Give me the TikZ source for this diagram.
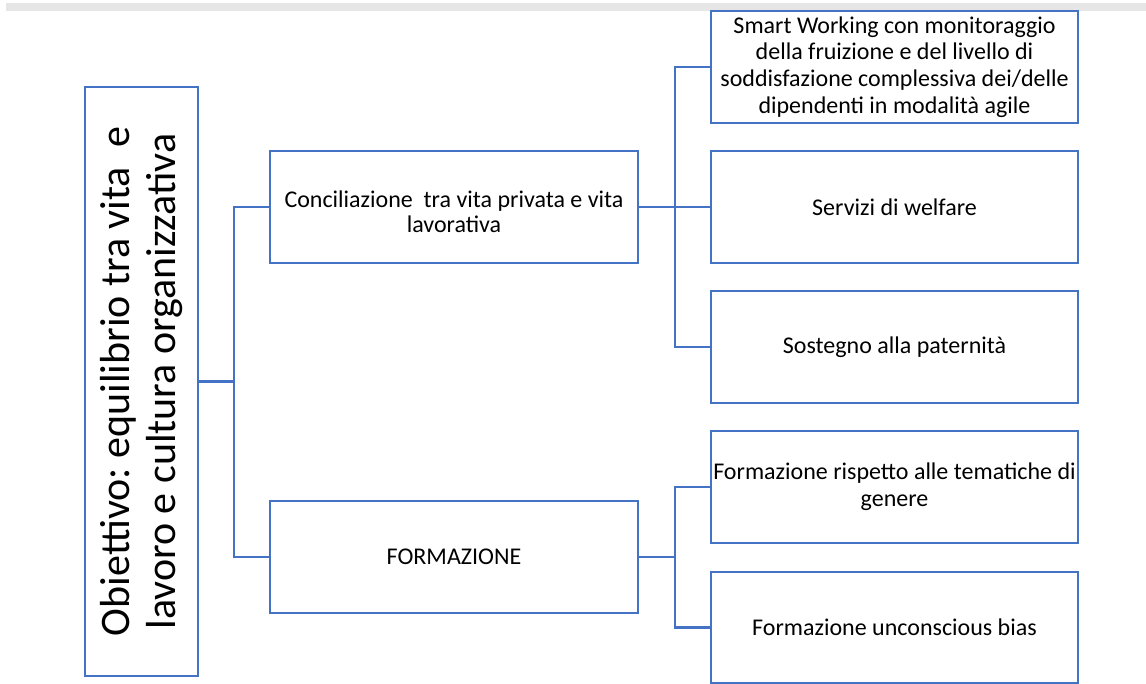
\documentclass[tikz,border=0pt]{standalone}
\usepackage{fontspec}
\setmainfont{Carlito}
\frenchspacing
\definecolor{boxblue}{HTML}{4472C4}
\definecolor{bargray}{HTML}{E6E6E6}
\begin{document}
\begin{tikzpicture}[x=1pt,y=-1pt,
  box/.style={draw=boxblue, line width=2.7pt, fill=white, inner sep=0pt, align=center, text=black},
  rbox/.style={box, minimum width=367pt, minimum height=112pt, font=\fontsize{24}{26.7}\selectfont},
  lbox/.style={box, minimum width=368pt, minimum height=112pt, font=\fontsize{24}{25}\selectfont},
  txt/.style={inner sep=0pt, align=center, text=black, font=\fontsize{24}{25}\selectfont},
  conn/.style={draw=boxblue, line width=2.7pt}]
\useasboundingbox (0,0) rectangle (1146,683);
\fill[bargray] (6,3) rectangle (1146,11);
% nodes
\node[box, minimum width=113pt, minimum height=589pt] (main) at (141.5,381.5) {};
\node[rotate=90, align=center, font=\fontsize{42}{46}\selectfont, inner sep=0pt] (maintxt) at (main.center) {Obiettivo: equilibrio tra vita\ \ e\\lavoro e cultura organizzativa};
\node[lbox] (l1a) at (454,207) {};
\node[txt, yshift=-5pt] (l1atxt) at (l1a.center) {Conciliazione\ \ tra vita privata e vita\\lavorativa};
\node[lbox] (l1b) at (454,557) {FORMAZIONE};
\node[rbox] (a) at (894.5,67) {Smart Working con monitoraggio\\della fruizione e del livello di\\soddisfazione complessiva dei/delle\\dipendenti in modalità agile};
\node[rbox] (b) at (894.5,207) {Servizi di welfare};
\node[rbox] (c) at (894.5,347) {Sostegno alla paternità};
\node[rbox] (d) at (894.5,487) {Formazione rispetto alle tematiche di\\genere};
\node[rbox, minimum height=111pt] (e) at (894.5,627.5) {Formazione unconscious bias};
% junctions
\coordinate (j0) at (234,381.5);
\coordinate (j1) at (675,207);
\coordinate (j2) at (675,557);
% connectors
\draw[conn] (main.east) -- (j0);
\draw[conn] (l1a.west) -- (l1a.west -| j0) -- (l1b.west -| j0) -- (l1b.west);
\draw[conn] (l1a.east) -- (j1);
\draw[conn] (a.west) -- (a.west -| j1) -- (c.west -| j1) -- (c.west);
\draw[conn] (j1) -- (b.west);
\draw[conn] (l1b.east) -- (j2);
\draw[conn] (d.west) -- (d.west -| j2) -- (e.west -| j2) -- (e.west);
\end{tikzpicture}
\end{document}
